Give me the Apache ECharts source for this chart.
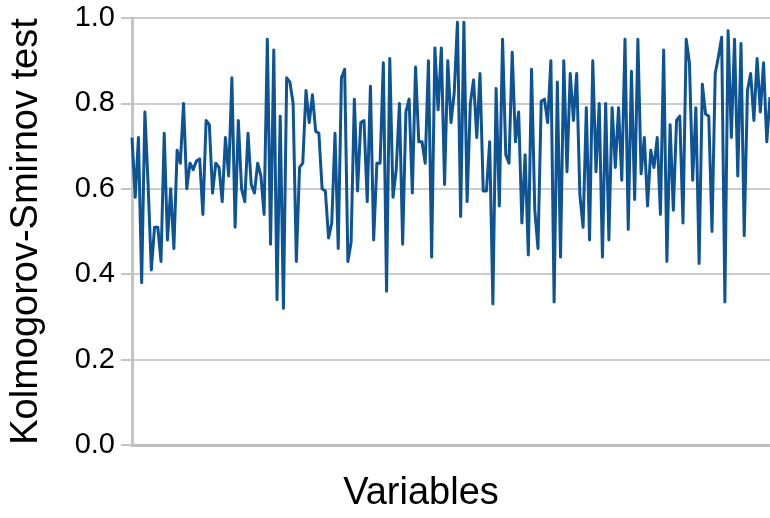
<!DOCTYPE html>
<html>
<head>
<meta charset="utf-8">
<script src="https://cdn.jsdelivr.net/npm/echarts@6/dist/echarts.min.js"></script>
<style>html,body{margin:0;padding:0;background:#fff}#c{width:770px;height:518px}</style>
</head>
<body>
<div id="c"></div>
<script>
const ks = [
0.72,0.58,0.72,0.38,0.78,0.61,0.41,0.51,0.51,0.43,0.73,0.48,0.60,0.46,0.69,0.66,0.80,0.60,0.66,0.645,0.665,0.67,0.54,0.76,0.75,0.59,0.66,0.65,0.57,0.72,0.63,0.86,0.51,
0.76,0.60,0.57,0.73,0.61,0.59,0.66,0.63,0.54,0.95,0.47,0.925,0.34,0.77,0.32,0.86,0.85,0.80,0.43,0.65,0.66,0.83,0.755,0.82,0.735,0.73,0.60,0.595,0.485,0.52,0.73,0.46,
0.86,0.88,0.43,0.475,0.81,0.595,0.755,0.76,0.57,0.84,0.48,0.66,0.66,0.895,0.36,0.905,0.58,0.645,0.80,0.47,0.78,0.81,0.59,0.885,0.71,0.71,0.66,0.90,0.44,
0.93,0.785,0.93,0.61,0.90,0.755,0.825,0.99,0.535,0.99,0.57,0.80,0.855,0.72,0.87,0.595,0.595,0.71,0.33,0.835,0.56,0.95,0.68,0.66,0.92,0.71,0.78,0.52,0.68,0.445,0.88,0.55,0.46,0.805,0.81,0.755,0.90,
0.335,0.85,0.44,0.90,0.64,0.87,0.76,0.87,0.585,0.51,0.79,0.48,0.90,0.64,0.80,0.44,0.80,0.48,0.79,0.65,0.79,0.62,0.95,0.505,0.875,0.575,0.95,0.635,0.72,
0.56,0.69,0.65,0.72,0.54,0.925,0.43,0.75,0.55,0.76,0.77,0.52,0.95,0.895,0.62,0.79,0.425,0.845,0.775,0.77,0.50,0.87,0.91,0.955,0.335,0.97,0.72,0.95,0.63,0.94,0.49,0.83,0.87,0.76,0.905,0.78,0.895,0.71,0.815
];
const categories = ks.map((_, i) => 'Var ' + (i + 1));
const yTicks = [0.0, 0.2, 0.4, 0.6, 0.8, 1.0];
const xTitle = 'Variables';
const yTitle = 'Kolmogorov-Smirnov test';

const font = '"Liberation Sans", Arial, Helvetica, sans-serif';
const chart = echarts.init(document.getElementById('c'), null, {renderer: 'canvas'});
chart.setOption({
  animation: false,
  backgroundColor: '#ffffff',
  grid: {left: 129, right: 0, top: 18, bottom: 73, containLabel: false},
  xAxis: {
    type: 'category',
    data: categories,
    boundaryGap: false,
    name: xTitle,
    nameLocation: 'middle',
    nameGap: 30,
    nameTextStyle: {fontFamily: font, fontSize: 38, color: '#000', padding: [0, 60, 0, 0]},
    axisLine: {show: true, lineStyle: {color: '#bdbdbd', width: 3}},
    axisTick: {show: false},
    axisLabel: {show: false},
    splitLine: {show: false}
  },
  yAxis: {
    type: 'value',
    min: 0, max: 1, interval: 0.2,
    name: yTitle,
    nameLocation: 'middle',
    nameRotate: 90,
    nameGap: 86,
    nameTextStyle: {fontFamily: font, fontSize: 38, color: '#000'},
    axisLine: {show: true, lineStyle: {color: '#c4c4c4', width: 3}},
    axisTick: {show: true, length: 11, lineStyle: {color: '#c4c4c4', width: 2}},
    axisLabel: {
      margin: 17, fontFamily: font, fontSize: 29, color: '#000',
      formatter: v => { const t = yTicks.find(x => Math.abs(x - v) < 1e-9); return (t !== undefined ? t : v).toFixed(1); }
    },
    splitLine: {show: true, lineStyle: {color: '#cccccc', width: 2}}
  },
  series: [{
    type: 'line',
    data: ks,
    showSymbol: false,
    symbol: 'none',
    lineStyle: {color: '#0e5394', width: 3, join: 'round'},
    z: 3
  }]
});
</script>
</body>
</html>
